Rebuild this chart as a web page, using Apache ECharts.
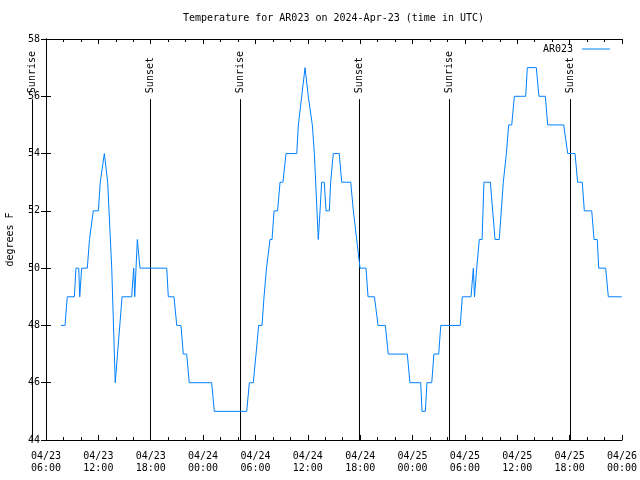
<!DOCTYPE html>
<html><head><meta charset="utf-8">
<script src="https://cdn.jsdelivr.net/npm/echarts@6/dist/echarts.min.js"></script>
<style>html,body{margin:0;padding:0;background:#fff}#c{width:640px;height:480px}</style>
</head><body><div id="c"></div>
<script>
const titleText = 'Temperature for AR023 on 2024-Apr-23 (time in UTC)';
const seriesName = 'AR023';
const yAxisName = 'degrees F';
const xTickLabels = ['04/23\n06:00','04/23\n12:00','04/23\n18:00','04/24\n00:00','04/24\n06:00','04/24\n12:00','04/24\n18:00','04/25\n00:00','04/25\n06:00','04/25\n12:00','04/25\n18:00','04/26\n00:00'];
const tempTimes = ['04/23 07:43','04/23 08:11','04/23 08:26','04/23 09:15','04/23 09:26','04/23 09:45','04/23 09:52','04/23 09:56','04/23 10:05','04/23 10:44','04/23 10:59','04/23 11:25','04/23 12:00','04/23 12:13','04/23 12:41','04/23 13:04','04/23 13:15','04/23 13:32','04/23 13:56','04/23 14:01','04/23 14:43','04/23 15:49','04/23 16:03','04/23 16:10','04/23 16:28','04/23 16:46','04/23 19:50','04/23 20:01','04/23 20:40','04/23 20:59','04/23 21:28','04/23 21:44','04/23 22:07','04/23 22:25','04/24 00:59','04/24 01:17','04/24 05:00','04/24 05:18','04/24 05:45','04/24 06:04','04/24 06:22','04/24 06:45','04/24 06:59','04/24 07:06','04/24 07:16','04/24 07:26','04/24 07:40','04/24 07:54','04/24 08:08','04/24 08:32','04/24 08:49','04/24 09:09','04/24 09:30','04/24 10:44','04/24 10:55','04/24 11:18','04/24 11:41','04/24 11:48','04/24 12:03','04/24 12:31','04/24 12:45','04/24 13:12','04/24 13:24','04/24 13:35','04/24 13:53','04/24 14:05','04/24 14:28','04/24 14:37','04/24 14:55','04/24 15:36','04/24 15:53','04/24 16:55','04/24 17:13','04/24 17:36','04/24 17:59','04/24 18:40','04/24 18:54','04/24 19:38','04/24 20:03','04/24 20:53','04/24 21:13','04/24 23:24','04/24 23:42','04/25 00:56','04/25 01:05','04/25 01:28','04/25 01:39','04/25 02:12','04/25 02:27','04/25 03:00','04/25 03:14','04/25 05:28','04/25 05:42','04/25 06:42','04/25 06:58','04/25 07:06','04/25 07:13','04/25 07:21','04/25 07:28','04/25 07:39','04/25 07:58','04/25 08:11','04/25 08:55','04/25 09:27','04/25 09:56','04/25 10:24','04/25 10:45','04/25 11:01','04/25 11:22','04/25 11:40','04/25 12:58','04/25 13:09','04/25 14:11','04/25 14:29','04/25 15:13','04/25 15:29','04/25 17:19','04/25 17:47','04/25 18:37','04/25 18:55','04/25 19:27','04/25 19:41','04/25 20:32','04/25 20:48','04/25 21:10','04/25 21:20','04/25 22:08','04/25 22:26','04/25 23:58'];
const tempValues = [48,48,49,49,50,50,49,49,50,50,51,52,52,53,54,53,53,50,46,46,49,49,50,49,51,50,50,49,49,48,48,47,47,46,46,45,45,46,46,47,48,48,49,49,50,50,51,51,52,52,53,53,54,54,55,56,57,57,56,55,54,51,52,53,53,52,52,53,54,54,53,53,52,51,50,50,49,49,48,48,47,47,46,46,45,45,46,46,47,47,48,48,49,49,50,49,49,50,50,51,51,53,53,51,51,53,54,55,55,56,56,57,57,56,56,55,55,54,54,53,53,52,52,51,51,50,50,49,49];
const sunTimes = ['04/23 04:22','04/23 17:58','04/24 04:14','04/24 17:54','04/25 04:11','04/25 18:02'];
const sunLabels = ['Sunrise','Sunset','Sunrise','Sunset','Sunrise','Sunset'];

// hours since 04/23 06:00
function toHours(s){
  const m = s.match(/(\d+)\/(\d+) (\d+):(\d+)/);
  return (parseInt(m[2],10)-23)*24 + parseInt(m[3],10) + parseInt(m[4],10)/60 - 6;
}
const FONT = 'DejaVu Sans Mono';
const lineData = tempTimes.map((t,i)=>[toHours(t), tempValues[i]]);
const sunData = sunTimes.map((t,i)=>[toHours(t), i]);

const chart = echarts.init(document.getElementById('c'), null, {renderer:'canvas'});
const xCommon = {
  type:'value', min:0, max:66, interval:6,
  axisLine:{show:true, lineStyle:{color:'#000', width:1}},
  axisTick:{show:true, inside:true, length:5, lineStyle:{color:'#000'}},
  minorTick:{show:true, splitNumber:3, length:3, lineStyle:{color:'#000'}},
  splitLine:{show:false}, minorSplitLine:{show:false}
};
const yCommon = {
  type:'value', min:44, max:58, interval:2,
  axisLine:{show:true, lineStyle:{color:'#000', width:1}},
  axisTick:{show:true, inside:true, length:5, lineStyle:{color:'#000'}},
  splitLine:{show:false}
};
chart.setOption({
  animation:false,
  backgroundColor:'#fff',
  title:{text:titleText, left:183, top:13, padding:0,
    textStyle:{fontFamily:FONT, fontSize:10, fontWeight:'normal', color:'#000'}},
  legend:{data:[seriesName], right:30, top:44, padding:0, align:'right', icon:'rect', itemWidth:28, itemHeight:1,
    textStyle:{fontFamily:FONT, fontSize:10, color:'#000', padding:[0,4,0,0]}},
  grid:{left:46, right:18, top:39, bottom:40, containLabel:false, outerBoundsMode:'none'},
  xAxis:[
    Object.assign({}, xCommon, {position:'bottom',
      axisLabel:{show:true, margin:10, fontFamily:FONT, fontSize:10, color:'#000', lineHeight:12,
        showMinLabel:true, showMaxLabel:true,
        formatter:(v)=>xTickLabels[Math.round(v/6)] || ''}}),
    Object.assign({}, xCommon, {position:'top', axisLabel:{show:false}})
  ],
  yAxis:[
    Object.assign({}, yCommon, {position:'left', name:yAxisName, nameLocation:'middle', nameGap:31, nameRotate:90,
      nameTextStyle:{fontFamily:FONT, fontSize:10, color:'#000'},
      axisLabel:{show:true, margin:6, fontFamily:FONT, fontSize:10, color:'#000'}}),
    Object.assign({}, yCommon, {position:'right', axisLabel:{show:false}})
  ],
  series:[
    {
      type:'custom', name:'sun', clip:false, silent:true, z:1,
      data:sunData,
      renderItem:(params, api)=>{
        const h = api.value(0);
        const idx = api.value(1);
        const top = api.coord([h, 55.9]);
        const bot = api.coord([h, 44]);
        const x = Math.round(top[0]) + 0.5;
        return {type:'group', children:[
          {type:'line', shape:{x1:x, y1:top[1], x2:x, y2:bot[1]}, style:{stroke:'#000', lineWidth:1}},
          {type:'text', x:x, y:top[1]-6, rotation:Math.PI/2,
            style:{text:sunLabels[idx], font:'10px ' + FONT, fill:'#000', align:'left', verticalAlign:'middle'}}
        ]};
      }
    },
    {
      type:'line', name:seriesName, data:lineData, showSymbol:false, symbol:'none', z:3,
      lineStyle:{color:'#0080ff', width:1}, itemStyle:{color:'#0080ff'}
    }
  ]
});
</script></body></html>
